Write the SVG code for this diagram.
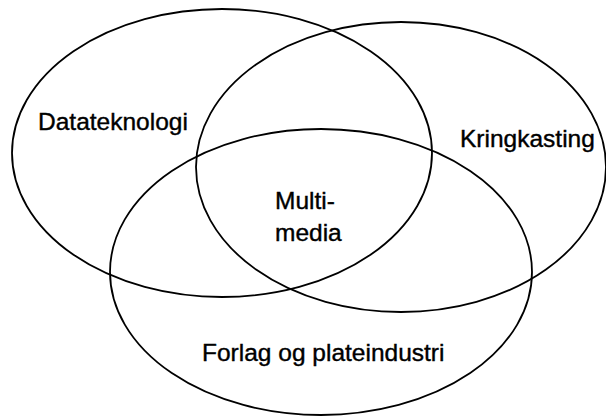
<svg xmlns="http://www.w3.org/2000/svg" width="606" height="418" viewBox="0 0 606 418">
<style>
.c{fill:none;stroke:#000;stroke-width:1.8}
.t{font-family:"Liberation Sans",Arial,sans-serif;font-size:24.5px;fill:#000;stroke:#000;stroke-width:0.4}
</style>
<rect width="606" height="418" fill="#fff"/>
<g id="datateknologi">
<ellipse class="c" cx="222" cy="153" rx="210" ry="144"/>
<text class="t" x="38" y="130">Datateknologi</text>
</g>
<g id="kringkasting">
<ellipse class="c" cx="401" cy="167" rx="205" ry="145"/>
<text class="t" x="460" y="147">Kringkasting</text>
</g>
<g id="forlag">
<ellipse class="c" cx="321" cy="272" rx="211" ry="143"/>
<text class="t" x="202" y="361">Forlag og plateindustri</text>
</g>
<g id="multimedia">
<text class="t" x="275" y="209">Multi-</text>
<text class="t" x="275" y="241">media</text>
</g>
<g id="connectors"></g>
</svg>
